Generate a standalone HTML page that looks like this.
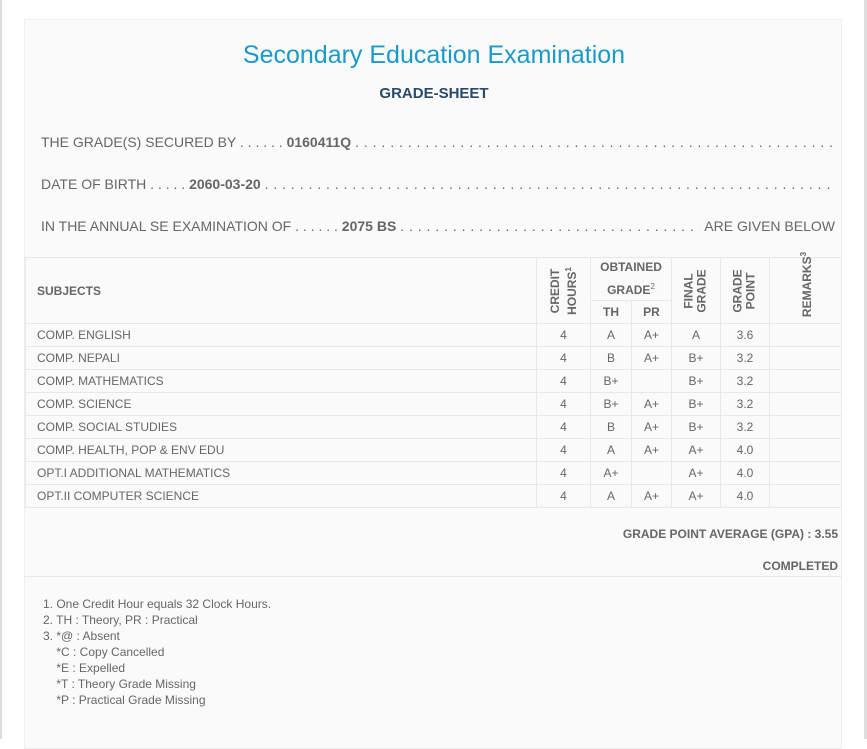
<!DOCTYPE html>
<html><head><meta charset="utf-8"><style>
*{margin:0;padding:0;box-sizing:border-box}
body{width:867px;height:739px;background:#fff;font-family:"Liberation Sans",sans-serif;color:#666;position:relative;overflow:hidden}
.lb{position:absolute;left:0;top:0;width:2px;height:739px;background:#ddd}
.rb{position:absolute;right:0;top:0;width:3px;height:739px;background:#ddd}
.box{position:absolute;left:24px;top:19px;width:818px;height:730px;background:#fafafa;border:1px solid #eee}
.abs{position:absolute;white-space:nowrap}
h1{position:absolute;left:0;width:818px;top:21px;text-align:center;font-size:25px;font-weight:normal;color:#1a9ac9}
h2{position:absolute;left:0;width:818px;top:65px;text-align:center;font-size:15px;font-weight:bold;color:#2a4a6a}
.line{position:absolute;left:16px;width:794px;display:flex;font-size:14px;color:#666;white-space:nowrap}
.line b{color:#666}
.fill{flex:1;overflow:hidden;letter-spacing:0.5px}
table{position:absolute;left:0;top:237px;width:817px;border-collapse:collapse;font-size:12px}
td,th{border:1px solid #e8e8e8;text-align:center;color:#666;padding:0}
th{font-weight:bold;font-size:12px}
td{height:23px}
td.s{text-align:left;padding-left:11px}
.rot{display:inline-block;transform:rotate(-90deg);line-height:13px;white-space:nowrap}
.notes{position:absolute;left:18px;top:576px;font-size:12px;line-height:16px;color:#666}
</style></head><body>
<div class="lb"></div><div class="rb"></div>
<div class="box">
<h1>Secondary Education Examination</h1>
<h2>GRADE-SHEET</h2>
<div class="line" style="top:114px"><span>THE GRADE(S) SECURED BY . . . . . .&nbsp;<b>0160411Q</b>&nbsp;</span><span class="fill">. . . . . . . . . . . . . . . . . . . . . . . . . . . . . . . . . . . . . . . . . . . . . . . . . . . . . . . . . . . . . . . . . . . . . . . . . . . . . . . . . . . . . . . . . . . . . . . . .</span></div>
<div class="line" style="top:156px"><span>DATE OF BIRTH . . . . .&nbsp;<b>2060-03-20</b>&nbsp;</span><span class="fill">. . . . . . . . . . . . . . . . . . . . . . . . . . . . . . . . . . . . . . . . . . . . . . . . . . . . . . . . . . . . . . . . . . . . . . . . . . . . . . . . . . . . . . . . . . . . . . . . . . . . .</span></div>
<div class="line" style="top:198px"><span>IN THE ANNUAL SE EXAMINATION OF . . . . . .&nbsp;<b>2075 BS</b>&nbsp;</span><span class="fill">. . . . . . . . . . . . . . . . . . . . . . . . . . . . . . . . . . . . . . . . . . . . . . . . . . . . . . . . . . . . . . . . .</span><span>&nbsp;ARE GIVEN BELOW</span></div>
<table>
<colgroup><col style="width:511px"><col style="width:54px"><col style="width:41px"><col style="width:40px"><col style="width:49px"><col style="width:49px"><col></colgroup>
<tr style="height:40px"><th rowspan="2" style="text-align:left;padding-left:11px">SUBJECTS</th><th rowspan="2"><span class="rot">CREDIT<br>HOURS<sup style="font-size:8px">1</sup></span></th><th colspan="2" style="line-height:19px">OBTAINED<br>GRADE<sup style="font-size:8px;font-weight:normal">2</sup></th><th rowspan="2"><span class="rot">FINAL<br>GRADE</span></th><th rowspan="2"><span class="rot">GRADE<br>POINT</span></th><th rowspan="2"><span class="rot" style="position:relative;top:-6px">REMARKS<sup style="font-size:8px">3</sup></span></th></tr>
<tr style="height:23px"><th>TH</th><th>PR</th></tr>
<tr><td class="s">COMP. ENGLISH</td><td>4</td><td>A</td><td>A+</td><td>A</td><td>3.6</td><td></td></tr>
<tr><td class="s">COMP. NEPALI</td><td>4</td><td>B</td><td>A+</td><td>B+</td><td>3.2</td><td></td></tr>
<tr><td class="s">COMP. MATHEMATICS</td><td>4</td><td>B+</td><td></td><td>B+</td><td>3.2</td><td></td></tr>
<tr><td class="s">COMP. SCIENCE</td><td>4</td><td>B+</td><td>A+</td><td>B+</td><td>3.2</td><td></td></tr>
<tr><td class="s">COMP. SOCIAL STUDIES</td><td>4</td><td>B</td><td>A+</td><td>B+</td><td>3.2</td><td></td></tr>
<tr><td class="s">COMP. HEALTH, POP &amp; ENV EDU</td><td>4</td><td>A</td><td>A+</td><td>A+</td><td>4.0</td><td></td></tr>
<tr><td class="s">OPT.I ADDITIONAL MATHEMATICS</td><td>4</td><td>A+</td><td></td><td>A+</td><td>4.0</td><td></td></tr>
<tr><td class="s">OPT.II COMPUTER SCIENCE</td><td>4</td><td>A</td><td>A+</td><td>A+</td><td>4.0</td><td></td></tr>
</table>
<div class="abs" style="right:3px;top:507px;font-size:12px;font-weight:bold">GRADE POINT AVERAGE (GPA) : 3.55</div>
<div class="abs" style="right:3px;top:539px;font-size:12px;font-weight:bold">COMPLETED</div>
<div style="position:absolute;left:0;top:556px;width:817px;border-top:1px solid #e8e8e8"></div>
<div class="notes">1. One Credit Hour equals 32 Clock Hours.<br>2. TH : Theory, PR : Practical<br>3. *@ : Absent<br>&nbsp;&nbsp;&nbsp;&nbsp;*C : Copy Cancelled<br>&nbsp;&nbsp;&nbsp;&nbsp;*E : Expelled<br>&nbsp;&nbsp;&nbsp;&nbsp;*T : Theory Grade Missing<br>&nbsp;&nbsp;&nbsp;&nbsp;*P : Practical Grade Missing</div>
</div>
</body></html>
